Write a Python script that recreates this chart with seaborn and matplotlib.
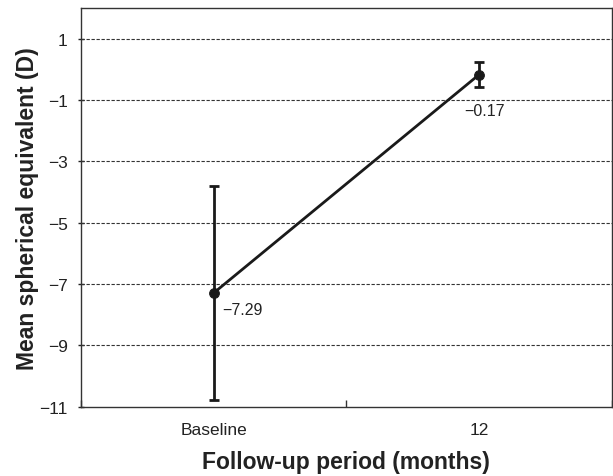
import matplotlib
matplotlib.use("Agg")
import matplotlib.pyplot as plt
import seaborn as sns
import pandas as pd
import numpy as np

categories = ["Baseline", "12"]
means = [-7.29, -0.17]
sds = [3.5, 0.41]
value_labels = ["\u22127.29", "\u22120.17"]
y_ticks = [1, -1, -3, -5, -7, -9, -11]

sns.set_theme(style="white")
plt.rcParams['font.family'] = ['Liberation Sans', 'DejaVu Sans']

fig = plt.figure(figsize=(6.13, 4.77), dpi=100)
ax = fig.add_axes([0.132, 0.145, 0.866, 0.836])

df = pd.DataFrame({"x": np.arange(len(categories)), "y": means})
ax.errorbar(df["x"], df["y"], yerr=sds, fmt="none", ecolor="#1a1a1a",
            elinewidth=2, capsize=3.5, capthick=2, zorder=3)
sns.lineplot(data=df, x="x", y="y", ax=ax, color="#1a1a1a", linewidth=2,
             marker="o", markersize=7, markeredgecolor="#1a1a1a", zorder=4)

ax.text(df["x"][0] + 0.034, means[0] - 0.55, value_labels[0], fontsize=11.5,
        ha="left", va="center", color="#222222")
ax.text(df["x"][1] - 0.055, means[1] - 1.18, value_labels[1], fontsize=11.5,
        ha="left", va="center", color="#222222")

ax.set_xlim(-0.5, 1.5)
ax.set_ylim(-11, 2)
ax.set_yticks(y_ticks)
ax.set_yticklabels([str(t).replace("-", "\u2212") for t in y_ticks], fontsize=12.5)
ax.set_xticks([0, 1])
ax.set_xticklabels(categories, fontsize=12.5)
ax.set_xticks([-0.5, 0.5, 1.5], minor=True)
ax.tick_params(axis="x", which="major", length=0, pad=11, colors="#222222")
ax.tick_params(axis="x", which="minor", length=5, width=1, direction="in", bottom=True, color="#333333")
ax.tick_params(axis="y", which="major", length=5, width=1, left=True, direction="inout", pad=7, colors="#222222")

for y in y_ticks[:-1]:
    ax.axhline(y, color="#333333", linestyle=(0, (3, 1.5)), linewidth=0.8, zorder=1)

for s in ax.spines.values():
    s.set_color("#333333")
    s.set_linewidth(1)

ax.set_xlabel("Follow-up period (months)", fontsize=16.5, fontweight="bold", labelpad=9, color="#222222")
ax.set_ylabel("Mean spherical equivalent (D)", fontsize=16.5, fontweight="bold", labelpad=0, color="#222222")

fig.savefig("out.png", dpi=100)
